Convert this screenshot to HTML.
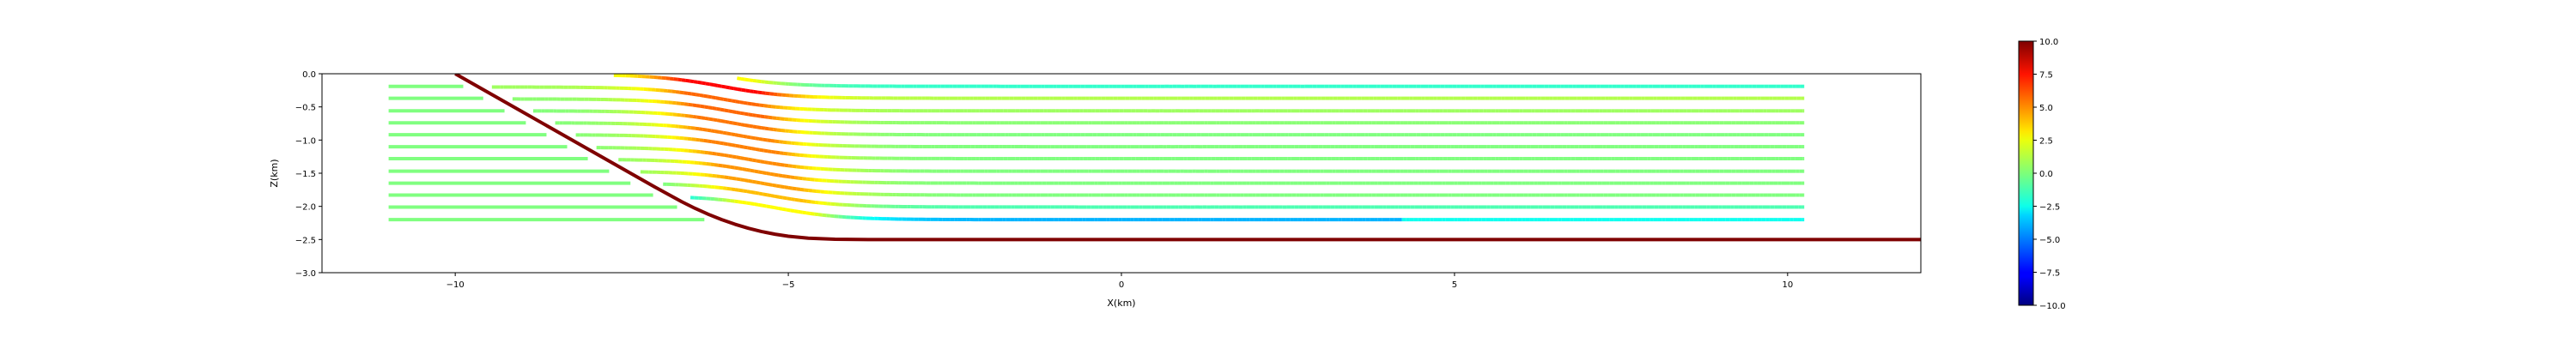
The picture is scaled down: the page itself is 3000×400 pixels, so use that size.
<!DOCTYPE html>
<html><head><meta charset="utf-8"><style>
html,body{margin:0;padding:0;background:#fff;}
svg{display:block;font-family:"DejaVu Sans","Liberation Sans",sans-serif;}
</style></head><body>
<svg id="chart" width="3000" height="400" viewBox="0 0 3000 400" xmlns="http://www.w3.org/2000/svg">
<defs>
<clipPath id="plotclip"><rect x="375" y="86" width="1862" height="232"/></clipPath>
<linearGradient id="jetgrad" x1="0" y1="1" x2="0" y2="0">
<stop offset="0" stop-color="#00007f"/><stop offset="0.11" stop-color="#0000ff"/>
<stop offset="0.125" stop-color="#0000ff"/><stop offset="0.34" stop-color="#00d4ff"/>
<stop offset="0.375" stop-color="#0dffea"/><stop offset="0.5" stop-color="#7dff7a"/>
<stop offset="0.625" stop-color="#eaff0d"/><stop offset="0.66" stop-color="#ffe600"/>
<stop offset="0.875" stop-color="#ff1300"/><stop offset="1" stop-color="#7f0000"/>
</linearGradient>
</defs>
<g id="marks" clip-path="url(#plotclip)"></g>
<rect x="375" y="86" width="1862" height="232" fill="none" stroke="#000" stroke-width="1"/>
<g id="axes"></g>
<text x="1306" y="357" font-size="11" text-anchor="middle">X(km)</text>
<text x="323" y="202" font-size="11" text-anchor="middle" transform="rotate(-90 323 202)">Z(km)</text>
<rect x="2351" y="48" width="17" height="308" fill="url(#jetgrad)" stroke="#000" stroke-width="1"/>
<g id="cbticks"></g>
</svg>
<script>
// ---- data ----
const xTicks = [-10, -5, 0, 5, 10];
const yTicks = [0.0, -0.5, -1.0, -1.5, -2.0, -2.5, -3.0];
const cbTicks = [10.0, 7.5, 5.0, 2.5, 0.0, -2.5, -5.0, -7.5, -10.0];
const levels = [-0.19, -0.37, -0.56, -0.74, -0.92, -1.10, -1.28, -1.47, -1.65, -1.83, -2.01, -2.20];
const footwallEnds = [-9.88, -9.58, -9.26, -8.94, -8.63, -8.32, -8.01, -7.69, -7.37, -7.03, -6.67, -6.26];
const hangingStarts = [-5.77, -7.62, -9.45, -9.14, -8.83, -8.50, -8.19, -7.88, -7.55, -7.22, -6.88, -6.47];
const hangingDrop = [0.36, 0.36, 0.36, 0.36, 0.36, 0.36, 0.36, 0.36, 0.36, 0.36, 0.36, 0.36];
const bendCenter = [-6.1, -6.0, -6.0, -5.9, -5.85, -5.8, -5.7, -5.6, -5.5, -5.4, -5.3, -5.2];
const bendValue = [2.5, 7.5, 5.5, 5.5, 5.2, 5.0, 5.0, 4.8, 4.6, 4.4, 3.8, 2.5];
const flatValue = [-1.5, 1.0, 0.6, 0.2, 0.0, 0.0, 0.0, 0.0, 0.0, 0.0, -1.0, -4.0];
const faultX = [-10, -7, -6.8, -6.6, -6.4, -6.2, -6.0, -5.8, -5.6, -5.4, -5.2, -5.0, -4.7, -4.3, -3.8, 12];
const faultZ = [0, -1.71, -1.82, -1.93, -2.03, -2.12, -2.2, -2.27, -2.33, -2.38, -2.42, -2.45, -2.48, -2.495, -2.5, -2.5];
const footwallValue = 0.0;
const lineStartX = -11.0, lineEndX = 10.25;

// ---- axes ----
const X0=375, X1=2237, Y0=86, Y1=318;
const xs = x => X0 + (x + 12) / 24 * (X1 - X0);
const ys = z => Y0 + (0 - z) / 3 * (Y1 - Y0);
const cs = v => 356 - (v + 10) / 20 * 308;
const NS = "http://www.w3.org/2000/svg";
const fmt = v => (v < 0 ? "\u2212" : "") + Math.abs(v);
const fmt1 = v => (v < 0 ? "\u2212" : "") + Math.abs(v).toFixed(1);

function jet(v){
  let t = Math.max(0, Math.min(1, (v + 10) / 20));
  const f = (a) => Math.max(0, Math.min(1, 1.5 - Math.abs(4*t - a)));
  const r = f(3), g = f(2), b = f(1);
  return `rgb(${Math.round(r*255)},${Math.round(g*255)},${Math.round(b*255)})`;
}
const marks = document.getElementById('marks');
const axes = document.getElementById('axes');
function seg(x1,z1,x2,z2,color,w,name){
  const l = document.createElementNS(NS,'line');
  l.setAttribute('x1',xs(x1)); l.setAttribute('y1',ys(z1));
  l.setAttribute('x2',xs(x2)); l.setAttribute('y2',ys(z2));
  l.setAttribute('stroke',color); l.setAttribute('stroke-width',w);
  
  
  marks.appendChild(l);
}
// footwall layers
footwallEnds.forEach((xe,i)=>{
  seg(lineStartX, levels[i], xe, levels[i], jet(footwallValue), 4, 'footwall-layer');
});
// hanging wall layers
levels.forEach((zr,k)=>{
  const sig = x => 1/(1+Math.exp(-(x - bendCenter[k]) / 0.5));
  const zf = x => zr + hangingDrop[k]*(1 - sig(x));
  const step = 0.06;
  for(let x = hangingStarts[k]; x < lineEndX; x += step){
    const x2 = Math.min(x+step, lineEndX);
    const s = sig(x + step/2);
    const bend = 4*s*(1-s);
    let fv = flatValue[k];
    if (k === 11 && x > 4.2) fv = -2.2;
    const v = fv + (bendValue[k] - fv) * Math.min(1, bend*1.3);
    seg(x, zf(x), x2, zf(x2), jet(v), 4, 'hanging-layer');
  }
});
// fault
const fp = faultX.map((x,i)=>xs(x)+','+ys(faultZ[i])).join(' ');
const fault = document.createElementNS(NS,'polyline');
fault.setAttribute('points', fp);
fault.setAttribute('fill','none'); fault.setAttribute('stroke','#7f0000');
fault.setAttribute('stroke-width','4'); fault.setAttribute('stroke-linejoin','round');


marks.appendChild(fault);

function text(x,y,s,anchor,size,parent,name){
  const t=document.createElementNS(NS,'text');
  t.setAttribute('x',x); t.setAttribute('y',y); t.setAttribute('font-size',size);
  t.setAttribute('text-anchor',anchor); t.textContent=s;
  
  
  parent.appendChild(t);
}
function tick(x1,y1,x2,y2,parent){
  const l=document.createElementNS(NS,'line');
  l.setAttribute('x1',x1); l.setAttribute('y1',y1); l.setAttribute('x2',x2); l.setAttribute('y2',y2);
  l.setAttribute('stroke','#000'); l.setAttribute('stroke-width',1);
  
  
  parent.appendChild(l);
}
xTicks.forEach(v=>{ const x=xs(v); tick(x,Y1,x,Y1+4,axes); text(x,Y1+17,fmt(v),'middle',10,axes,'x-tick-label'); });
yTicks.forEach(v=>{ const y=ys(v); tick(X0-4,y,X0,y,axes); text(X0-7,y+4,fmt1(v),'end',10,axes,'y-tick-label'); });
const cb = document.getElementById('cbticks');
cbTicks.forEach(v=>{ const y=cs(v); tick(2368,y,2372,y,cb); text(2375,y+4,fmt1(v),'start',10,cb,'colorbar-tick-label'); });
</script>
</body></html>
